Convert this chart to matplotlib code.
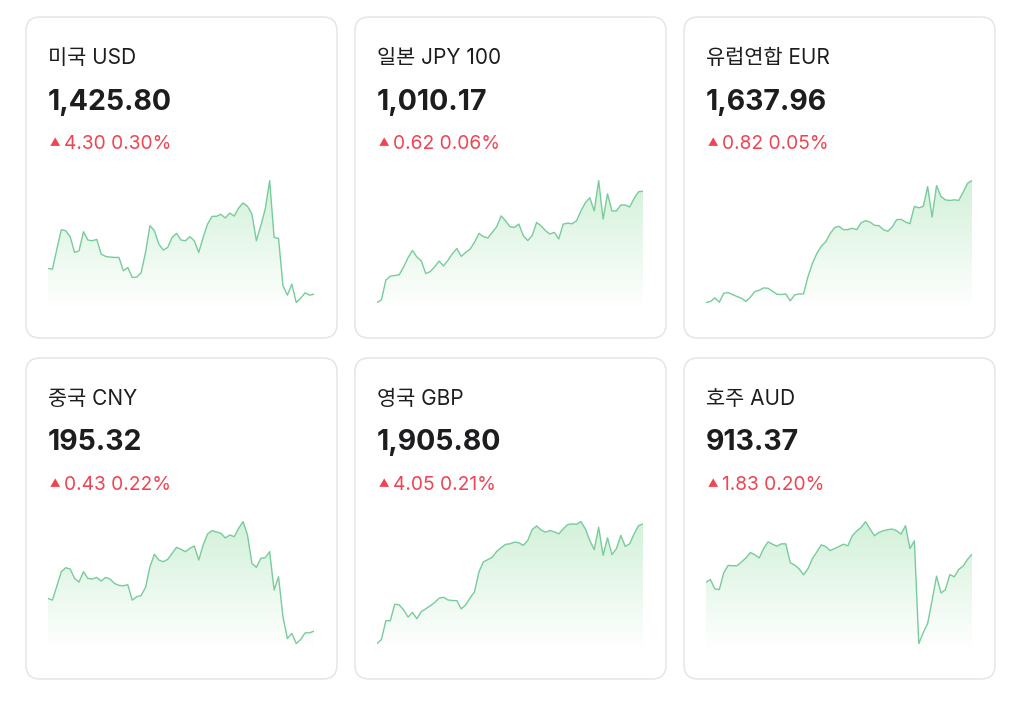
import numpy as np
import matplotlib.pyplot as plt
from matplotlib.patches import FancyBboxPatch
from matplotlib.colors import LinearSegmentedColormap

plt.rcParams['font.family'] = ['Inter', 'Noto Sans CJK KR', 'DejaVu Sans']

# 카드 정보
names = ["미국 USD", "일본 JPY 100", "유럽연합 EUR", "중국 CNY", "영국 GBP", "호주 AUD"]
prices = ["1,425.80", "1,010.17", "1,637.96", "195.32", "1,905.80", "913.37"]
changes = ["4.30", "0.62", "0.82", "0.43", "4.05", "1.83"]
percents = ["0.30%", "0.06%", "0.05%", "0.22%", "0.21%", "0.20%"]

# 스파크라인 값 (그림에서 읽은 상대 높이)
usd = [127, 125, 185, 243, 240, 222, 175, 180, 237, 212, 210, 214, 170, 163, 161, 160,
       160, 120, 130, 100, 101, 114, 175, 255, 240, 200, 182, 190, 220, 232, 212, 210,
       222, 210, 175, 220, 260, 283, 283, 289, 278, 293, 284, 308, 323, 313, 290, 210,
       255, 305, 390, 220, 217, 75, 47, 80, 25, 38, 54, 47, 50]
jpy = [22, 30, 90, 102, 104, 106, 130, 158, 180, 160, 148, 110, 116, 130, 148, 133,
       150, 170, 186, 162, 174, 184, 205, 232, 222, 218, 235, 252, 285, 270, 252, 250,
       260, 225, 210, 225, 265, 255, 240, 230, 235, 215, 260, 263, 261, 270, 300, 325,
       340, 300, 392, 275, 352, 300, 300, 318, 318, 312, 338, 358, 360]
eur = [22, 25, 36, 23, 50, 52, 46, 40, 35, 25, 38, 55, 59, 66, 65, 56,
       47, 46, 48, 27, 45, 48, 48, 100, 140, 170, 192, 205, 230, 248, 252, 242,
       242, 246, 242, 263, 269, 265, 255, 254, 242, 237, 250, 272, 273, 265, 260, 312,
       308, 312, 372, 280, 375, 342, 332, 330, 332, 330, 355, 382, 390]
cny = [155, 150, 192, 235, 247, 243, 215, 204, 235, 215, 213, 218, 207, 218, 213, 200,
       194, 193, 196, 150, 160, 164, 188, 250, 287, 270, 265, 272, 290, 308, 302, 295,
       305, 312, 270, 315, 348, 358, 354, 350, 336, 345, 340, 365, 385, 345, 260, 248,
       275, 277, 295, 180, 220, 100, 35, 50, 20, 32, 52, 52, 57]
gbp = [18, 30, 87, 87, 137, 135, 120, 98, 112, 93, 115, 123, 132, 142, 155, 158,
       150, 148, 148, 123, 135, 156, 175, 235, 265, 272, 279, 297, 308, 318, 320, 325,
       323, 315, 330, 363, 374, 362, 355, 360, 356, 350, 365, 378, 380, 379, 387, 365,
       330, 302, 370, 285, 338, 287, 305, 345, 312, 320, 350, 375, 380]
aud = [202, 210, 182, 180, 230, 252, 251, 251, 262, 274, 290, 284, 274, 302, 322, 315,
       309, 316, 316, 260, 253, 242, 224, 242, 272, 292, 313, 308, 296, 302, 308, 315,
       310, 340, 354, 365, 382, 360, 340, 350, 355, 358, 360, 355, 345, 370, 302, 325,
       20, 52, 80, 148, 220, 170, 180, 225, 218, 240, 250, 270, 285]
series = [usd, jpy, eur, cny, gbp, aud]

W, H = 1024, 703
fig = plt.figure(figsize=(W / 100, H / 100), dpi=100)
fig.patch.set_facecolor('white')

# 배경 축 (픽셀 좌표)
bg = fig.add_axes([0, 0, 1, 1])
bg.set_xlim(0, W)
bg.set_ylim(H, 0)
bg.axis('off')

card_x = [26, 355, 684]
card_y = [17, 358]
card_w, card_h = 311, 321

line_color = '#78cc9c'
red = '#f04452'
dark = '#1d1d1f'
grad = LinearSegmentedColormap.from_list('g', ['#ffffff', '#d2f1d9'])

for i in range(6):
    cx = card_x[i % 3]
    cy = card_y[i // 3]
    box = FancyBboxPatch((cx, cy), card_w, card_h,
                         boxstyle="round,pad=0,rounding_size=14",
                         facecolor='white', edgecolor='#e3e5e8', linewidth=1.1)
    bg.add_patch(box)

    bg.text(cx + 22, cy + 41, names[i], fontsize=15, color=dark, va='center', ha='left')
    bg.text(cx + 22, cy + 85, prices[i], fontsize=20.5, fontweight='bold', color=dark,
            va='center', ha='left')
    bg.text(cx + 24, cy + 126, "▲", fontsize=7.5, color=red, va='center', ha='left',
            family='Noto Sans CJK KR')
    bg.text(cx + 38, cy + 127, changes[i] + " " + percents[i], fontsize=13.8, color=red,
            va='center', ha='left')

    # 스파크라인
    left = cx + 22
    top = cy + 163
    aw, ah = 266, 128
    ax = fig.add_axes([left / W, (H - top - ah) / H, aw / W, ah / H])
    vals = np.array(series[i], dtype=float)
    x = np.arange(len(vals))
    lo = vals.min() - 0.045 * (vals.max() - vals.min())
    hi = vals.max() + 0.005 * (vals.max() - vals.min())
    ax.set_xlim(0, len(vals) - 1)
    ax.set_ylim(lo, hi)
    ax.axis('off')

    fill = ax.fill_between(x, vals, lo, facecolor='none', edgecolor='none')
    g = np.linspace(0, 1, 256).reshape(-1, 1)
    img = ax.imshow(g, cmap=grad, aspect='auto', origin='lower',
                    extent=[0, len(vals) - 1, lo, hi], zorder=1)
    img.set_clip_path(fill.get_paths()[0], transform=ax.transData)
    ax.plot(x, vals, color=line_color, linewidth=1.0, zorder=2)

plt.savefig('out.png', dpi=100)
